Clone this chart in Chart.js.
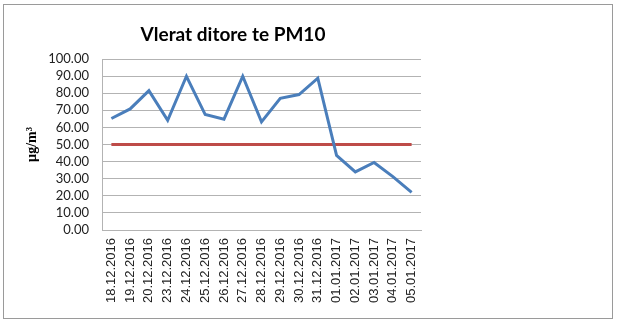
<!DOCTYPE html>
<html>
<head>
<meta charset="utf-8">
<script src="https://cdn.jsdelivr.net/npm/chart.js@4.4.0/dist/chart.umd.min.js"></script>
<style>
	html, body { margin: 0; padding: 0; background: #fff; }
	#wrap { position: relative; width: 620px; height: 323px; }
	#frame { position: absolute; left: 3px; top: 4px; width: 608px; height: 313px; border: 1px solid #9a9a9a; pointer-events: none; }
</style>
</head>
<body>
<div id="wrap">
	<canvas id="pm10-chart" width="620" height="323"></canvas>
	<div id="frame"></div>
</div>
<script>
// daily values
var dates = ["18.12.2016", "19.12.2016", "20.12.2016", "23.12.2016", "24.12.2016", "25.12.2016",
	"26.12.2016", "27.12.2016", "28.12.2016", "29.12.2016", "30.12.2016", "31.12.2016",
	"01.01.2017", "02.01.2017", "03.01.2017", "04.01.2017", "05.01.2017"];
var pm10Values = [65.2, 70.8, 81.5, 64.2, 89.9, 67.5, 64.8, 89.9, 63.2, 77.0, 79.2, 88.8,
	43.6, 34.0, 39.5, 31.2, 22.0];
var limitValues = [50, 50, 50, 50, 50, 50, 50, 50, 50, 50, 50, 50, 50, 50, 50, 50, 50];
var titleText = "Vlerat ditore te PM10";
var yAxisTitle = "µg/m³";

var COLOR_BLUE = "#4a7ebb";
var COLOR_RED = "#be4b48";
var COLOR_GRID = "#b3b3b3";

// title is centered over the plot+labels block, not the canvas, so draw it by hand
var titlePlugin = {
	id: "pm10Title",
	afterDraw: function (chart) {
		var c = chart.ctx;
		c.save();
		c.font = "bold 19px Lato, 'Open Sans', sans-serif";
		c.fillStyle = "#000";
		c.textAlign = "center";
		c.textBaseline = "middle";
		c.fillText(titleText, 233, 35);
		c.restore();
	}
};

var handlePm10Chart = function () {
	const ctx = document.getElementById("pm10-chart").getContext("2d");

	var datany = {
		labels: dates,
		datasets: [
			{
				label: "PM10",
				data: pm10Values,
				borderColor: COLOR_BLUE,
				borderWidth: 3,
				pointRadius: 0,
				tension: 0,
				fill: false,
			},
			{
				label: "Limit",
				data: limitValues,
				borderColor: COLOR_RED,
				borderWidth: 3,
				pointRadius: 0,
				tension: 0,
				fill: false,
			},
		],
	};

	const myChart = new Chart(ctx, {
		type: "line",
		data: datany,
		plugins: [titlePlugin],
		options: {
			responsive: false,
			animation: false,
			layout: {
				padding: { top: 59, right: 199, bottom: 10, left: 24 },
			},
			plugins: {
				legend: { display: false },
				title: { display: false },
				tooltip: { enabled: false },
			},
			scales: {
				x: {
					offset: true,
					grid: { display: false, drawTicks: false },
					border: { display: true, color: COLOR_GRID, width: 1 },
					ticks: {
						color: "#222",
						font: { family: "'Liberation Sans', Arial, sans-serif", size: 13 },
						maxRotation: 90,
						minRotation: 90,
						autoSkip: false,
						padding: 8,
					},
					afterFit: function (scale) {
						scale.height = 83;
					},
				},
				y: {
					min: 0,
					max: 100,
					grid: { color: COLOR_GRID, lineWidth: 1, drawTicks: false },
					border: { display: true, color: COLOR_GRID, width: 1 },
					ticks: {
						stepSize: 10,
						autoSkip: false,
						color: "#222",
						padding: 13,
						font: { family: "Lato, 'Open Sans', sans-serif", size: 13 },
						callback: function (v) { return v.toFixed(2); },
					},
					title: {
						display: true,
						text: yAxisTitle,
						color: "#000",
						font: { family: "'Liberation Serif', serif", size: 14, weight: "bold" },
						padding: 0,
					},
					afterFit: function (scale) {
						scale.width = 78;
					},
				},
			},
		},
	});

	return myChart;
};

handlePm10Chart();
</script>
</body>
</html>
